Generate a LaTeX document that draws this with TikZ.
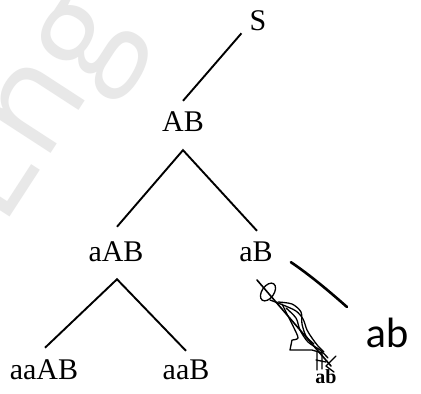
\documentclass[tikz,border=0pt]{standalone}
\usepackage{fontspec}
\setmainfont{Liberation Serif}
\newfontfamily\marksans{Open Sans}
\newfontfamily\handfont{Lato}
\begin{document}
\begin{tikzpicture}[x=1pt,y=-1pt,
  term/.style={inner sep=0pt,font=\fontsize{30}{30}\selectfont},
  edge/.style={line width=1.9pt,black},
  ink/.style={line width=2.6pt,black,line cap=round,line join=round},
  scrawl/.style={line width=1.3pt,black,line cap=round,line join=round}]
\useasboundingbox (0,0) rectangle (421,394);
\fill[white] (0,0) rectangle (421,394);

% faint background lettering
\node[rotate=57,text=black!9,font=\marksans\fontsize{140}{140}\selectfont,inner sep=0pt]
  (mark) at (40,110) {Eng};

% derivation tree
\node[term] (S)    at (258,21)  {S};
\node[term] (AB)   at (183,122) {AB};
\node[term] (aAB)  at (116,252) {aAB};
\node[term] (aB)   at (256,252) {aB};
\node[term] (aaAB) at (44,370)  {aaAB};
\node[term] (aaB)  at (186,370) {aaB};

\draw[edge] ([shift={(-8,2)}]S.south west) -- ([shift={(0,-11)}]AB.north);
\draw[edge] ([shift={(1,-15)}]aAB.north) -- ([shift={(0,18)}]AB.south)
            -- ([shift={(1,-11)}]aB.north);
\draw[edge] ([shift={(1,-12)}]aaAB.north) -- ([shift={(1,17)}]aAB.south)
            -- ([shift={(0,-9)}]aaB.north);

% handwritten correction
\coordinate (tick) at (347,307);
\draw[ink] ([shift={(18,0)}]aB.south east) .. controls (310,275) and (330,292) .. (tick);
\node[inner sep=0pt,font=\handfont\fontsize{40}{40}\selectfont] (hand) at (388,333) {ab};

% crossed-out leaf
\node[term,font=\fontsize{20}{20}\bfseries\selectfont] (old) at (326,377) {ab};
\coordinate (scr) at (257,280);
\draw[scrawl,line width=1.6pt] (scr) -- (331,366);
\draw[scrawl,rotate around={-35:(268,292)}] (268,292) ellipse [x radius=6, y radius=10];
\draw[scrawl] plot[smooth] coordinates {(270,300) (283,305) (296,311) (303,319)
  (307,330) (312,338) (318,346) (324,352)};
\draw[scrawl] plot[smooth] coordinates {(282,304) (288,316) (294,328) (298,338)
  (292,340)} -- (290,350) -- (312,350) -- (322,353);
\draw[scrawl] plot[smooth] coordinates {(278,302) (292,304) (301,312) (302,324) (306,336) (314,344)};
\draw[scrawl] plot[smooth] coordinates {(286,308) (296,318) (300,330) (308,342) (320,350) (328,358)};
\draw[scrawl] (317,352) -- (317,370) (322,351) -- (322,369) (316,360) -- (326,362)
  (336,356) -- (326,366) -- (334,372);
\end{tikzpicture}
\end{document}
